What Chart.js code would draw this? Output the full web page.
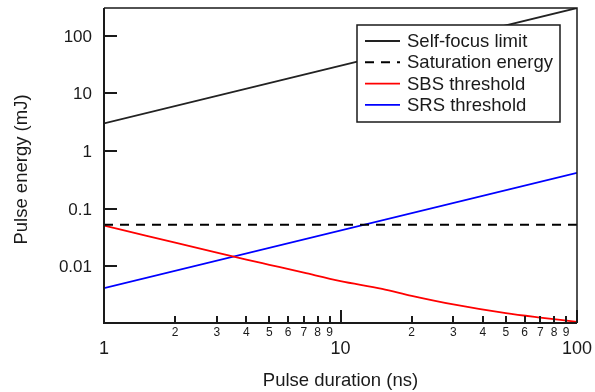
<!DOCTYPE html>
<html><head><meta charset="utf-8">
<script src="https://cdn.jsdelivr.net/npm/chart.js@4/dist/chart.umd.min.js"></script>
<style>html,body{margin:0;padding:0;background:#fff}#wrap{width:595px;height:392px}</style>
</head><body><div id="wrap"><canvas id="c" width="595" height="392"></canvas></div>
<script>
// ---- data ----
const durations = [1, 1.5, 2, 3, 4, 5, 7, 10, 15, 20, 30, 50, 70, 100];
const sbsThreshold = [0.051, 0.0342, 0.0258, 0.0174, 0.0132, 0.0107, 0.0078, 0.0056, 0.0041, 0.0031, 0.0022, 0.00155, 0.0013, 0.0011];
const lineEnds = [1, 100];
const selfFocusLimit = [3, 300];
const saturationEnergy = [0.053, 0.053];
const srsThreshold = [0.0042, 0.42];
const seriesLabels = ['Self-focus limit', 'Saturation energy', 'SBS threshold', 'SRS threshold'];
const xMajorTicks = [1, 10, 100];
const xMajorLabels = ['1', '10', '100'];
const xMinorTicks = [2, 3, 4, 5, 6, 7, 8, 9, 20, 30, 40, 50, 60, 70, 80, 90];
const xMinorLabels = ['2', '3', '4', '5', '6', '7', '8', '9', '2', '3', '4', '5', '6', '7', '8', '9'];
const yTicks = [0.01, 0.1, 1, 10, 100];
const yTickLabels = ['0.01', '0.1', '1', '10', '100'];
const xTitle = 'Pulse duration (ns)';
const yTitle = 'Pulse energy (mJ)';

const pts = (xs, ys) => xs.map((x, i) => ({x, y: ys[i]}));
const FONT = '"Liberation Sans", Arial, sans-serif';

const framePlugin = {
  id: 'frame',
  afterDatasetsDraw(chart) {
    const ctx = chart.ctx, a = chart.chartArea;
    const xs = chart.scales.x, ys = chart.scales.y;
    ctx.save();
    ctx.strokeStyle = '#1a1a1a';
    // frame
    ctx.lineWidth = 1.5;
    ctx.beginPath();
    ctx.moveTo(a.left, a.top); ctx.lineTo(a.right, a.top); ctx.lineTo(a.right, a.bottom);
    ctx.stroke();
    ctx.lineWidth = 2;
    ctx.beginPath();
    ctx.moveTo(a.left, a.top); ctx.lineTo(a.left, a.bottom); ctx.lineTo(a.right, a.bottom);
    ctx.stroke();
    // y ticks + labels
    ctx.lineWidth = 2;
    ctx.fillStyle = '#1a1a1a';
    ctx.font = '17px ' + FONT;
    ctx.textAlign = 'right'; ctx.textBaseline = 'middle';
    yTicks.forEach((v, i) => {
      const y = Math.round(ys.getPixelForValue(v));
      ctx.beginPath(); ctx.moveTo(a.left, y); ctx.lineTo(a.left + 13, y); ctx.stroke();
      ctx.fillText(yTickLabels[i], a.left - 12, y + 1);
    });
    // x ticks
    xMajorTicks.forEach(v => {
      const x = Math.round(xs.getPixelForValue(v));
      ctx.beginPath(); ctx.moveTo(x, a.bottom); ctx.lineTo(x, a.bottom - 13); ctx.stroke();
    });
    xMinorTicks.forEach(v => {
      const x = Math.round(xs.getPixelForValue(v));
      ctx.beginPath(); ctx.moveTo(x, a.bottom); ctx.lineTo(x, a.bottom - 7); ctx.stroke();
    });
    ctx.textAlign = 'center'; ctx.textBaseline = 'middle';
    ctx.font = '12px ' + FONT;
    xMinorTicks.forEach((v, i) => {
      ctx.fillText(xMinorLabels[i], xs.getPixelForValue(v), a.bottom + 10);
    });
    ctx.font = '18px ' + FONT;
    xMajorTicks.forEach((v, i) => {
      ctx.fillText(xMajorLabels[i], xs.getPixelForValue(v), a.bottom + 26);
    });
    // titles
    ctx.font = '18.5px ' + FONT;
    ctx.fillText(xTitle, (a.left + a.right) / 2, 381);
    ctx.save();
    ctx.textBaseline = 'alphabetic';
    ctx.translate(27, 169.5); ctx.rotate(-Math.PI / 2);
    ctx.fillText(yTitle, 0, 0);
    ctx.restore();
    // legend box
    const lx = 357, ly = 25, lw = 203, lh = 97;
    ctx.fillStyle = '#fff';
    ctx.fillRect(lx, ly, lw, lh);
    ctx.lineWidth = 1.5;
    ctx.strokeStyle = '#1a1a1a';
    ctx.strokeRect(lx, ly, lw, lh);
    ctx.textAlign = 'left';
    ctx.font = '18.5px ' + FONT;
    chart.data.datasets.forEach((ds, i) => {
      const cy = 41 + i * 21.3;
      ctx.save();
      ctx.strokeStyle = ds.borderColor;
      ctx.lineWidth = ds.borderWidth;
      ctx.setLineDash(ds.borderDash || []);
      ctx.beginPath(); ctx.moveTo(365, cy); ctx.lineTo(400, cy); ctx.stroke();
      ctx.restore();
      ctx.fillStyle = '#1a1a1a';
      ctx.fillText(ds.label, 407, cy + 1);
    });
    ctx.restore();
  }
};

new Chart(document.getElementById('c'), {
  type: 'line',
  data: {
    datasets: [
      {label: seriesLabels[0], data: pts(lineEnds, selfFocusLimit), borderColor: '#222', borderWidth: 1.8, pointRadius: 0},
      {label: seriesLabels[1], data: pts(lineEnds, saturationEnergy), borderColor: '#000', borderWidth: 2, borderDash: [9, 7], pointRadius: 0},
      {label: seriesLabels[2], data: pts(durations, sbsThreshold), borderColor: '#ff0000', borderWidth: 1.8, pointRadius: 0, cubicInterpolationMode: 'monotone'},
      {label: seriesLabels[3], data: pts(lineEnds, srsThreshold), borderColor: '#0000ff', borderWidth: 1.8, pointRadius: 0}
    ]
  },
  options: {
    responsive: false,
    animation: false,
    devicePixelRatio: 1,
    layout: {padding: {left: 104, right: 18, top: 8, bottom: 69}},
    scales: {
      x: {type: 'logarithmic', min: 1, max: 100, display: false},
      y: {type: 'logarithmic', min: 0.00105, max: 300, display: false}
    },
    plugins: {legend: {display: false}, tooltip: {enabled: false}}
  },
  plugins: [framePlugin]
});
</script></body></html>
